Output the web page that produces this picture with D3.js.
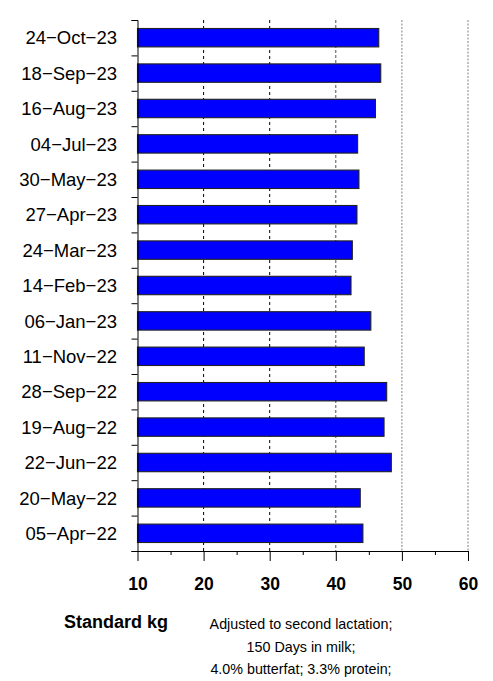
<!DOCTYPE html>
<html>
<head>
<meta charset="utf-8">
<script src="https://cdn.jsdelivr.net/npm/d3@7"></script>
<style>
  body { margin: 0; background: #fff; }
  svg { font-family: "Liberation Sans", Arial, Helvetica, sans-serif; }
</style>
</head>
<body>
<div class="chart"></div>
<script>
"use strict";

// test dates, top to bottom
const dates = [
  "24−Oct−23", "18−Sep−23", "16−Aug−23", "04−Jul−23", "30−May−23",
  "27−Apr−23", "24−Mar−23", "14−Feb−23", "06−Jan−23", "11−Nov−22",
  "28−Sep−22", "19−Aug−22", "22−Jun−22", "20−May−22", "05−Apr−22"
];
// standard kg per test
const kg = [46.5, 46.8, 46.0, 43.3, 43.5, 43.2, 42.5, 42.3, 45.3, 44.3, 47.7, 47.3, 48.4, 43.7, 44.1];
const xTicks = [10, 20, 30, 40, 50, 60];
const xMinor = [15, 25, 35, 45, 55];
const notes = ["Adjusted to second lactation;", "150 Days in milk;", "4.0% butterfat; 3.3% protein;"];

const width = 493;
const height = 681;
const plotLeft = 137.5, plotRight = 468, plotTop = 20, plotBottom = 551;

const svg = d3
  .select(".chart")
  .append("svg")
  .attr("width", width)
  .attr("height", height);

const x = d3.scaleLinear().domain([10, 60]).range([plotLeft, plotRight]);
const y = d3.scaleBand().domain(dates).range([plotTop, plotBottom]).paddingInner(0.48).paddingOuter(0.24);
const yEdge = d3.scaleLinear().domain([0, dates.length]).range([plotTop, plotBottom]);

// grid lines (behind bars)
const gridStyle = (v) =>
  v <= 30 ? ["#000", "3,3"] : v === 40 ? ["#555", "3,2"] : ["#808080", "2,1.5"];

svg
  .selectAll(".grid")
  .data(xTicks.filter((v) => v > 10))
  .enter()
  .append("line")
  .attr("class", "grid")
  .attr("x1", (d) => x(d))
  .attr("x2", (d) => x(d))
  .attr("y1", plotTop)
  .attr("y2", plotBottom)
  .attr("stroke", (d) => gridStyle(d)[0])
  .attr("stroke-dasharray", (d) => gridStyle(d)[1])
  .attr("stroke-width", 1);

// bars
svg
  .selectAll(".bar")
  .data(dates)
  .enter()
  .append("rect")
  .attr("class", "bar")
  .attr("x", x(10))
  .attr("y", (d) => y(d))
  .attr("width", (d, i) => x(kg[i]) - x(10))
  .attr("height", y.bandwidth())
  .style("fill", "#0000FF")
  .style("stroke", "#222")
  .style("stroke-width", 1.1);

// y axis: ticks at category edges
const yAxis = svg
  .append("g")
  .attr("transform", `translate(${plotLeft},0)`)
  .call(d3.axisLeft(yEdge).tickValues(d3.range(dates.length + 1)).tickSize(6).tickFormat(""));
yAxis.select(".domain").attr("stroke", "#000");
yAxis.selectAll("line").attr("stroke", "#000");

svg
  .selectAll(".ylab")
  .data(dates)
  .enter()
  .append("text")
  .attr("class", "ylab")
  .attr("text-anchor", "end")
  .attr("x", 117)
  .attr("y", (d) => y(d) + y.bandwidth() / 2)
  .attr("dy", "0.36em")
  .style("font-size", "18.5px")
  .text((d) => d);

// x axis
const xAxis = svg
  .append("g")
  .attr("transform", `translate(0,${plotBottom})`)
  .call(d3.axisBottom(x).tickValues(xTicks).tickSize(10).tickPadding(17).tickSizeOuter(0));
xAxis.select(".domain").attr("stroke", "#000");
xAxis
  .selectAll("text")
  .style("font-size", "17.5px")
  .style("font-weight", "bold")
  .attr("fill", "#000");

svg
  .append("g")
  .attr("transform", `translate(0,${plotBottom})`)
  .call(d3.axisBottom(x).tickValues(xMinor).tickSize(4).tickFormat("").tickSizeOuter(0))
  .select(".domain")
  .remove();

// footer
svg
  .append("text")
  .attr("x", 116)
  .attr("y", 628)
  .attr("text-anchor", "middle")
  .style("font-size", "18px")
  .style("font-weight", "bold")
  .text("Standard kg");

svg
  .selectAll(".note")
  .data(notes)
  .enter()
  .append("text")
  .attr("class", "note")
  .attr("x", 301)
  .attr("y", (d, i) => 629 + i * 22.5)
  .attr("text-anchor", "middle")
  .style("font-size", "14.3px")
  .text((d) => d);
</script>
</body>
</html>
